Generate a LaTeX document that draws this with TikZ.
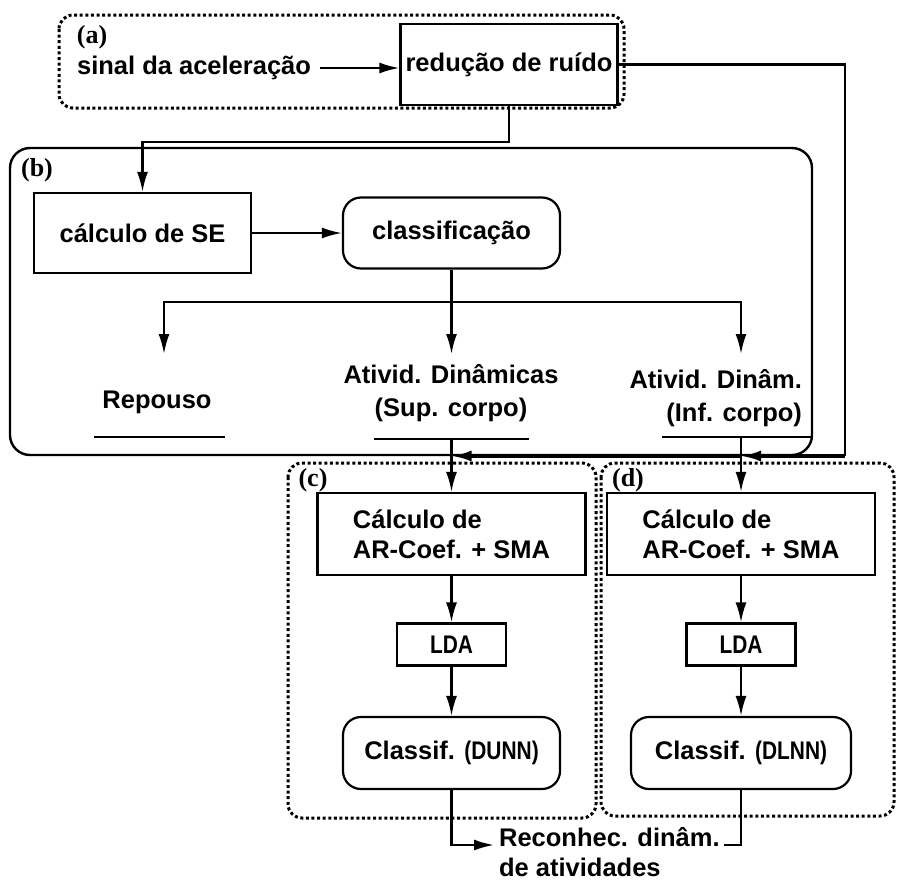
\documentclass[tikz,border=0pt]{standalone}
\usepackage{fontspec}
\setmainfont{Liberation Sans}
\newfontfamily\tagfont{Liberation Serif}
\usetikzlibrary{arrows.meta}
\newcommand{\narrowtxt}[1]{\scalebox{0.82}[1]{#1}}

\begin{document}
\begin{tikzpicture}[x=1pt,y=-1pt,line width=2.2pt,
  font=\fontsize{25.5}{30}\selectfont\bfseries,
  tip/.style={-{Latex[length=20pt,width=11pt]}},
  box/.style={draw,line width=2.2pt,inner sep=0pt},
  rbox/.style={box,rounded corners=18pt},
  txt/.style={inner sep=0pt},
  tag/.style={inner sep=0pt,font=\tagfont\fontsize{26}{26}\selectfont\bfseries},
  frame/.style={line width=3pt,dash pattern=on 3pt off 2.6pt,rounded corners=14pt},
  group/.style={line width=2.4pt,rounded corners=20pt},
  feed/.style={line width=3.2pt}]
\fill[white] (0,0) rectangle (897,881);
\useasboundingbox (0,0) rectangle (897,881);

% ---- (a) signal input and noise reduction
\draw[frame] (59,15) rectangle (624,108);
\node[tag] (la) at (92,37) {(a)};
\node[box,minimum width=217pt,minimum height=81pt] (ruido) at (509,64.5) {redução de ruído};
\node[txt,anchor=west] (sinal) at (76,68) {sinal da aceleração};
\draw[tip,shorten <=8pt] (sinal.east) -- (sinal.east -| ruido.west);

% ---- (b) SE computation and first classification
\draw[group] (10,148) rectangle (812,455);
\node[tag] (lb) at (37,170) {(b)};
\node[box,minimum width=217pt,minimum height=80pt] (se) at (142.5,233) {cálculo de SE};
\node[rbox,minimum width=217pt,minimum height=71pt] (cls) at (451.5,233) {classificação};
\draw[tip] (ruido.south) -- ++(0,36) -| (se.north);
\draw[tip] (se) -- (cls);

\coordinate (br) at (451.5,302);
\coordinate (repIn) at (164,354);
\coordinate (supIn) at (451.5,354);
\coordinate (infIn) at (741,354);
\draw (cls.south) -- (br);
\draw[tip] (br) -| (repIn);
\draw[tip] (br) -| (infIn);
\draw[tip] (br) -- (supIn);

\node[txt] (rep) at (157,402) {Repouso};
\node[txt,align=center] (sup) at (451,393) {Ativid. Dinâmicas\\[3pt](Sup. corpo)};
\node[txt,align=right,anchor=east] (inf) at (803,398) {Ativid. Dinâm.\\[3pt](Inf. corpo)};
\draw (94,437) -- (225,437);
\draw (374,439) -- (529,439);
\draw (662,437) -- (812,437);

% ---- feed from the noise reduction to (c) and (d)
\coordinate (corner) at (845,456);
\coordinate (jd) at (741,456);
\coordinate (jc) at (451.5,456);
\coordinate (supOut) at (451.5,439);
\coordinate (infOut) at (741,437);
\draw (ruido.east) -| (corner);
\draw[feed,tip] (corner) -- (jd);
\draw[feed,tip] (jd) -- (jc);

% ---- (c) and (d) recognition branches
\draw[frame] (288,463) rectangle (596,818);
\draw[frame] (601,463) rectangle (894,816);
\node[tag] (lc) at (313,480) {(c)};
\node[tag] (ld) at (628,480) {(d)};

\node[box,minimum width=268pt,minimum height=82pt,align=left] (calcC) at (451.5,534) {Cálculo de\\AR-Coef. + SMA};
\node[box,minimum width=268pt,minimum height=82pt,align=left] (calcD) at (741,534) {Cálculo de\\AR-Coef. + SMA};
\node[box,minimum width=109pt,minimum height=42pt] (ldaC) at (451.5,644.5) {\narrowtxt{LDA}};
\node[box,minimum width=109pt,minimum height=42pt] (ldaD) at (741,644.5) {\narrowtxt{LDA}};
\node[rbox,minimum width=217pt,minimum height=72pt] (clsC) at (451.5,753) {Classif. \narrowtxt{(DUNN)}};
\node[rbox,minimum width=220pt,minimum height=72pt] (clsD) at (741,753) {Classif. \narrowtxt{(DLNN)}};

\draw[tip] (supOut) -- (calcC.north);
\draw[tip] (infOut) -- (calcD.north);
\draw[tip] (calcC) -- (ldaC);
\draw[tip] (calcD) -- (ldaD);
\draw[tip] (ldaC) -- (clsC);
\draw[tip] (ldaD) -- (clsD);

% ---- merged output
\coordinate (recIn) at (494,845);
\coordinate (recD) at (724,845);
\node[txt,align=left,anchor=west] (rec) at (498,852) {Reconhec. dinâm.\\de atividades};
\draw[tip] (clsC.south) |- (recIn);
\draw (clsD.south) |- (recD);
\end{tikzpicture}
\end{document}
